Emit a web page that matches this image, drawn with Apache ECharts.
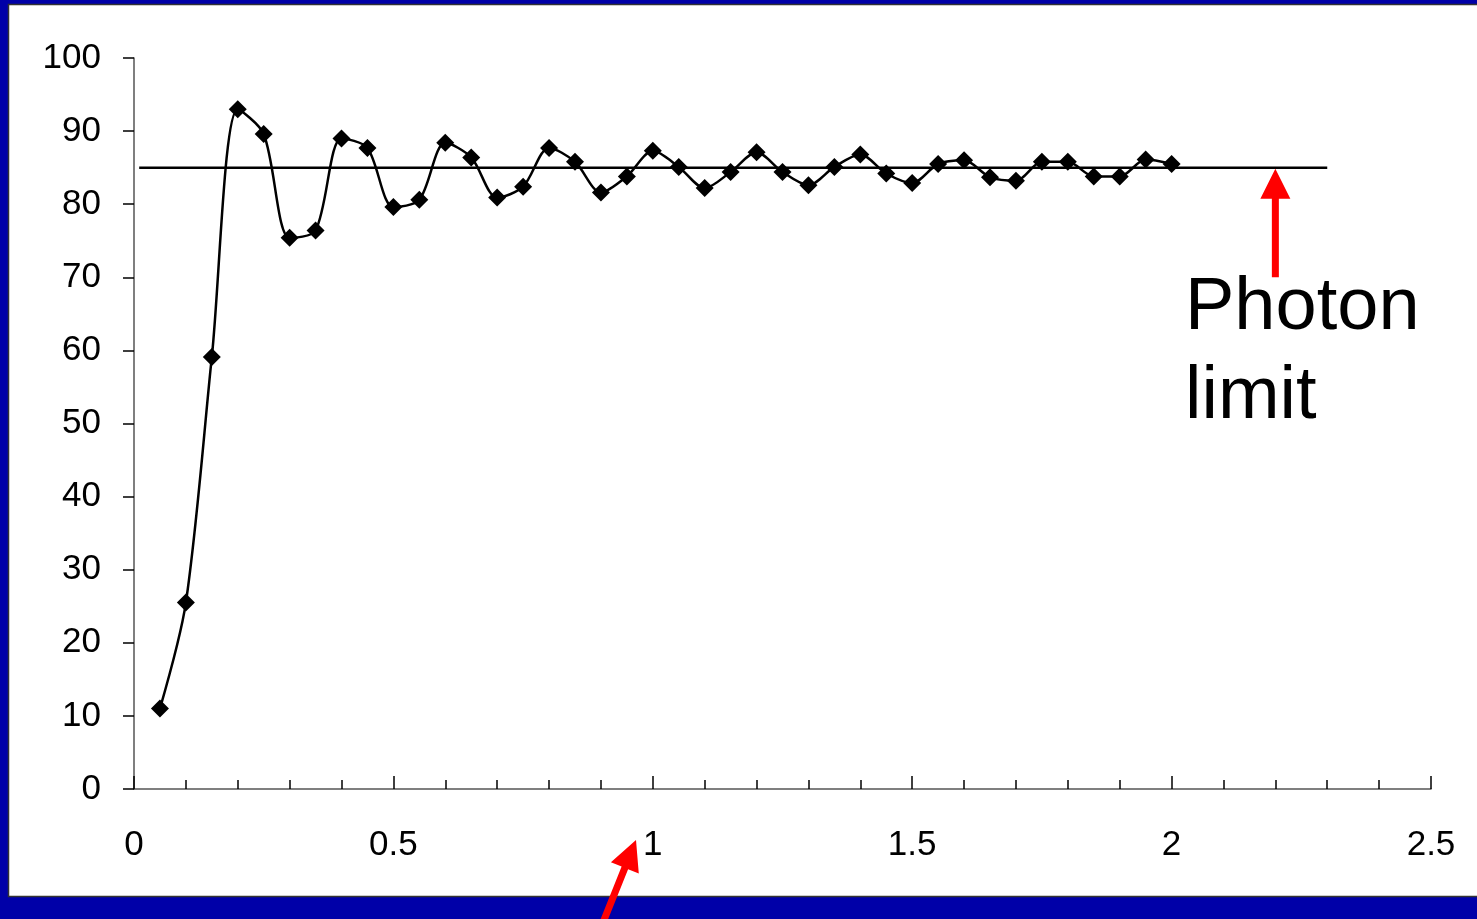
<!DOCTYPE html>
<html>
<head>
<meta charset="utf-8">
<script src="https://cdn.jsdelivr.net/npm/echarts@6/dist/echarts.min.js"></script>
<style>
  html, body { margin: 0; padding: 0; background: #0000A8; }
  #chart { width: 1477px; height: 919px; }
</style>
</head>
<body>
<div id="chart"></div>
<script>
// ---- data ----
const xValues = [0.05, 0.10, 0.15, 0.20, 0.25, 0.30, 0.35, 0.40, 0.45, 0.50,
                 0.55, 0.60, 0.65, 0.70, 0.75, 0.80, 0.85, 0.90, 0.95, 1.00,
                 1.05, 1.10, 1.15, 1.20, 1.25, 1.30, 1.35, 1.40, 1.45, 1.50,
                 1.55, 1.60, 1.65, 1.70, 1.75, 1.80, 1.85, 1.90, 1.95, 2.00];
const yValues = [11.0, 25.5, 59.1, 93.0, 89.6, 75.4, 76.4, 89.0, 87.7, 79.6,
                 80.6, 88.4, 86.4, 80.9, 82.4, 87.7, 85.8, 81.6, 83.8, 87.3,
                 85.1, 82.2, 84.4, 87.1, 84.4, 82.6, 85.1, 86.8, 84.2, 82.9,
                 85.5, 86.0, 83.7, 83.2, 85.8, 85.8, 83.8, 83.8, 86.1, 85.5];
const photonLimit = 85;
const limitLineX = [0.01, 2.3];
const arrowX = 2.2;          // photon-limit arrow position (data x)
const arrowTailY = 70;       // arrow tail (data y)
const labelLines = ['Photon', 'limit'];

const chart = echarts.init(document.getElementById('chart'), null, { renderer: 'canvas' });

const FONT = '"Liberation Sans", Arial, sans-serif';

const option = {
  animation: false,
  backgroundColor: '#0000A8',
  grid: { left: 134, right: 46, top: 58, bottom: 130, containLabel: false },
  xAxis: {
    type: 'value',
    min: 0, max: 2.5, interval: 0.5,
    axisLine: { show: true, lineStyle: { color: '#555', width: 1.5 } },
    axisTick: { show: true, inside: true, length: 13, lineStyle: { color: '#000', width: 1.5 } },
    minorTick: { show: true, splitNumber: 5, length: 9, lineStyle: { color: '#000', width: 1.5 } },
    splitLine: { show: false },
    axisLabel: { color: '#000', fontSize: 35, fontFamily: FONT, margin: 39 }
  },
  yAxis: {
    type: 'value',
    min: 0, max: 100, interval: 10,
    axisLine: { show: true, lineStyle: { color: '#555', width: 1.5 } },
    axisTick: { show: true, inside: false, length: 11, lineStyle: { color: '#000', width: 1.5 } },
    splitLine: { show: false },
    axisLabel: { color: '#000', fontSize: 35, fontFamily: FONT, margin: 33 }
  },
  series: [
    {
      type: 'line',
      data: limitLineX.map(x => [x, photonLimit]),
      symbol: 'none',
      lineStyle: { color: '#000', width: 2.5 },
      z: 1
    },
    {
      type: 'line',
      data: xValues.map((x, i) => [x, yValues[i]]),
      smooth: 0.3,
      symbol: 'diamond',
      symbolSize: 18,
      itemStyle: { color: '#000' },
      lineStyle: { color: '#000', width: 2.5 },
      z: 3
    }
  ]
};
chart.setOption(option);

// arrow polygon helper (pixel coords)
function arrowShape(tx, ty, sx, sy, headLen, headW, shaftW) {
  const dx = sx - tx, dy = sy - ty;
  const L = Math.hypot(dx, dy);
  const ux = dx / L, uy = dy / L;     // from tip to tail
  const px = -uy, py = ux;            // perpendicular
  const bx = tx + ux * headLen, by = ty + uy * headLen;
  return [
    [tx, ty],
    [bx + px * headW / 2, by + py * headW / 2],
    [bx + px * shaftW / 2, by + py * shaftW / 2],
    [sx + px * shaftW / 2, sy + py * shaftW / 2],
    [sx - px * shaftW / 2, sy - py * shaftW / 2],
    [bx - px * shaftW / 2, by - py * shaftW / 2],
    [bx - px * headW / 2, by - py * headW / 2]
  ];
}

const tip = chart.convertToPixel({ gridIndex: 0 }, [arrowX, photonLimit]);
const tail = chart.convertToPixel({ gridIndex: 0 }, [arrowX, arrowTailY]);

chart.setOption({
  graphic: [
    {
      type: 'rect', z: -100, silent: true,
      shape: { x: 8.5, y: 4.5, width: 1500, height: 892 },
      style: { fill: '#fff', stroke: '#333', lineWidth: 1.5 }
    },
    {
      type: 'polygon', z: 100, silent: true,
      shape: { points: arrowShape(tip[0], tip[1] + 1, tail[0], tail[1], 30, 30, 7) },
      style: { fill: '#ff0000' }
    },
    {
      type: 'polygon', z: 100, silent: true,
      shape: { points: arrowShape(636, 840, 596, 940, 30, 30, 7) },
      style: { fill: '#ff0000' }
    },
    {
      type: 'text', z: 100, silent: true,
      x: 1185, y: 309,
      style: { text: labelLines[0], fill: '#000', font: '74px ' + FONT, verticalAlign: 'middle', align: 'left' }
    },
    {
      type: 'text', z: 100, silent: true,
      x: 1185, y: 398,
      style: { text: labelLines[1], fill: '#000', font: '74px ' + FONT, verticalAlign: 'middle', align: 'left' }
    }
  ]
});
</script>
</body>
</html>
